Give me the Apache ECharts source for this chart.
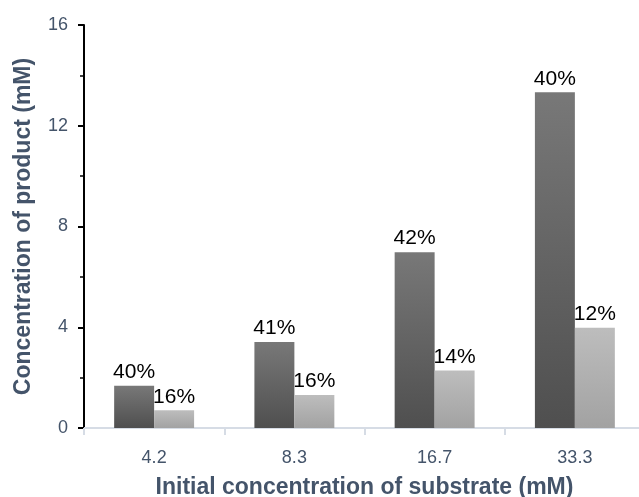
<!DOCTYPE html>
<html><head><meta charset="utf-8">
<script src="https://cdn.jsdelivr.net/npm/echarts@6/dist/echarts.min.js"></script>
<style>html,body{margin:0;padding:0;background:#fff}#c{width:639px;height:497px}</style>
</head><body><div id="c"></div>
<script>
var categories = ['4.2', '8.3', '16.7', '33.3'];
var darkValues = [1.68, 3.41, 6.98, 13.33];
var lightValues = [0.70, 1.31, 2.28, 3.98];
var darkLabels = ['40%', '41%', '42%', '40%'];
var lightLabels = ['16%', '16%', '14%', '12%'];
var yTicks = [0, 4, 8, 12, 16];

var txt = '#44546A';
var ff = 'Liberation Sans';
var chart = echarts.init(document.getElementById('c'));
function grad(a, b) {
  return new echarts.graphic.LinearGradient(0, 0, 0, 1, [{offset: 0, color: a}, {offset: 1, color: b}]);
}
chart.setOption({
  animation: false,
  grid: {left: 84, right: -6, top: 25, bottom: 69, outerBoundsMode: 'none', containLabel: false},
  xAxis: {
    type: 'category', data: categories,
    name: 'Initial concentration of substrate (mM)', nameLocation: 'middle', nameGap: 48,
    nameTextStyle: {fontFamily: ff, fontWeight: 'bold', fontSize: 23, color: txt},
    axisLine: {lineStyle: {color: '#D6DCE5', width: 2}},
    axisTick: {show: true, length: 7, lineStyle: {color: '#D6DCE5', width: 2}},
    axisLabel: {margin: 21, fontFamily: ff, fontSize: 18, color: txt}
  },
  yAxis: {
    type: 'value', min: yTicks[0], max: yTicks[yTicks.length - 1], interval: 4,
    name: 'Concentration of product (mM)', nameLocation: 'middle', nameGap: 49,
    nameTextStyle: {fontFamily: ff, fontWeight: 'bold', fontSize: 23, color: txt},
    axisLine: {show: true, lineStyle: {color: '#000', width: 2}},
    axisTick: {show: true, length: 6, lineStyle: {color: '#000', width: 2}},
    minorTick: {show: true, splitNumber: 2, length: 4, lineStyle: {color: '#000', width: 1.5}},
    splitLine: {show: false},
    axisLabel: {margin: 16, fontFamily: ff, fontSize: 18, color: txt}
  },
  series: [
    {
      type: 'bar', data: darkValues, barGap: '0%', barCategoryGap: '43%',
      itemStyle: {color: grad('#787878', '#4F4F4F')},
      label: {show: true, position: 'top', distance: 3, fontFamily: ff, fontSize: 21, color: '#000',
        formatter: function (p) { return darkLabels[p.dataIndex]; }}
    },
    {
      type: 'bar', data: lightValues, barGap: '0%', barCategoryGap: '43%',
      itemStyle: {color: grad('#BDBDBD', '#A2A2A2')},
      label: {show: true, position: 'top', distance: 3, fontFamily: ff, fontSize: 21, color: '#000',
        formatter: function (p) { return lightLabels[p.dataIndex]; }}
    }
  ]
});
</script></body></html>
